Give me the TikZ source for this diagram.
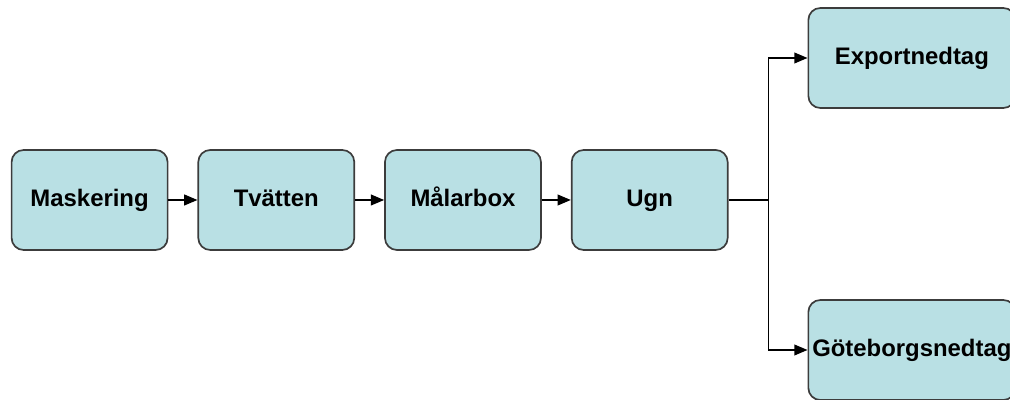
\documentclass[tikz,border=0pt]{standalone}
\usepackage{fontspec}
\setmainfont{Liberation Sans}
\usetikzlibrary{positioning,arrows.meta}

\definecolor{boxfill}{HTML}{B9E0E4}
\definecolor{boxline}{HTML}{3C3C3C}

\tikzstyle{stepNode} = [rectangle, rounded corners=0.3cm, minimum width=3.9cm, minimum height=2.5cm, text centered, draw=boxline, line width=1.2pt, fill=boxfill, font=\fontsize{17}{20}\selectfont\bfseries, inner sep=0pt, text height=12.5pt, text depth=3.5pt]
\tikzstyle{endNode} = [stepNode, minimum width=5.175cm]
\tikzstyle{arrow} = [line width=1pt, -{Triangle[length=0.33cm,width=0.27cm]}]

\begin{document}
\begin{tikzpicture}[node distance=0.725cm]
    \useasboundingbox (0,0) rectangle (25.25,10);
    \node (maskering)[stepNode] at (2.24,5) {Maskering};
    \node (tvatten)[stepNode, right=of maskering] {Tvätten};
    \node (malarbox)[stepNode, right=of tvatten] {Målarbox};
    \node (ugn)[stepNode, right=of malarbox] {Ugn};
    \coordinate[right=1cm of ugn] (split);
    \node (export)[endNode, anchor=west] at ([xshift=0.975cm,yshift=3.55cm]split) {Exportnedtag};
    \node (goteborg)[endNode, anchor=west] at ([xshift=0.975cm,yshift=-3.75cm]split) {Göteborgsnedtag};

    \draw [arrow] (maskering) -- (tvatten);
    \draw [arrow] (tvatten) -- (malarbox);
    \draw [arrow] (malarbox) -- (ugn);
    \draw [line width=1pt] (ugn) -- (split);
    \draw [arrow] (split) |- (export);
    \draw [arrow] (split) |- (goteborg);

  \end{tikzpicture}
\end{document}
